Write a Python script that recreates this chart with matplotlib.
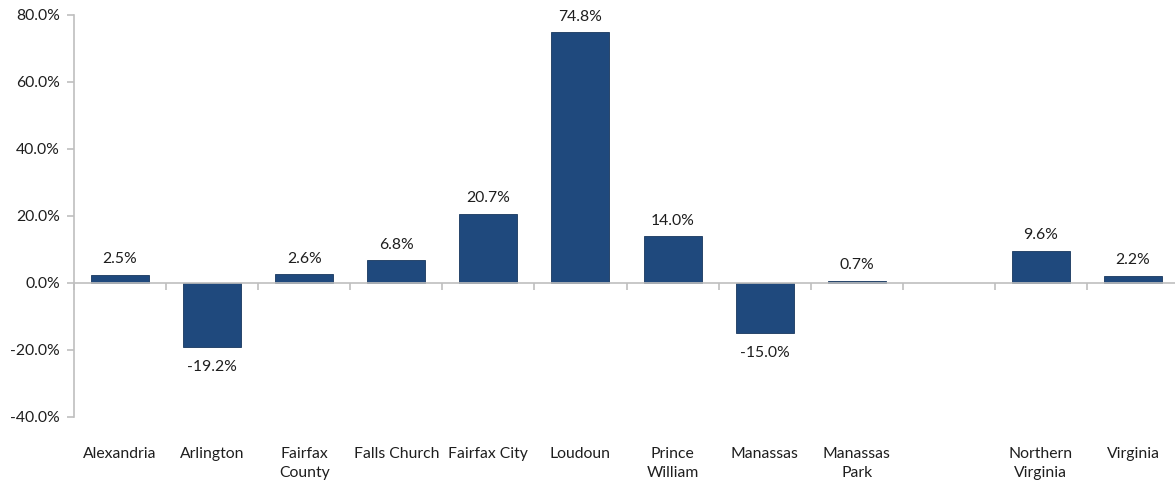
import matplotlib
matplotlib.use("Agg")
import matplotlib.pyplot as plt
import numpy as np

categories = ["Alexandria", "Arlington", "Fairfax\nCounty", "Falls Church", "Fairfax City",
              "Loudoun", "Prince\nWilliam", "Manassas", "Manassas\nPark", "",
              "Northern\nVirginia", "Virginia"]
values = [2.5, -19.2, 2.6, 6.8, 20.7, 74.8, 14.0, -15.0, 0.7, None, 9.6, 2.2]
yticks = [-40, -20, 0, 20, 40, 60, 80]

plt.rcParams['font.family'] = ['Lato', 'DejaVu Sans']
BAR = '#1F497D'
AX = '#BFBFBF'
TXT = '#1e1e1e'
FS = 11.3

fig = plt.figure(figsize=(11.75, 4.83), dpi=100)
ax = fig.add_axes([74/1175, 1-417/483, (1179-74)/1175, (417-14.7)/483])

n = len(categories)
x = np.arange(n)
for xi, v in zip(x, values):
    if v is None:
        continue
    ax.bar(xi, v, width=0.63, color=BAR, edgecolor='#17375E', linewidth=0.6, zorder=2)
    if v >= 0:
        ax.annotate(f"{v:.1f}%", (xi, v), xytext=(0, 6), textcoords='offset points',
                    ha='center', va='bottom', fontsize=FS, color=TXT)
    else:
        ax.annotate(f"{v:.1f}%", (xi, v), xytext=(0, -9), textcoords='offset points',
                    ha='center', va='top', fontsize=FS, color=TXT)

ax.set_xlim(-0.5, n - 0.5)
ax.set_ylim(-40, 80)
ax.set_yticks(yticks)
ax.set_yticklabels([f"{t:.1f}%" for t in yticks], fontsize=FS, color=TXT)

for s in ['top', 'right']:
    ax.spines[s].set_visible(False)
ax.spines['left'].set_color(AX)
ax.spines['left'].set_linewidth(1.2)
ax.spines['bottom'].set_position(('data', 0))
ax.spines['bottom'].set_color(AX)
ax.spines['bottom'].set_linewidth(1.2)
ax.spines['bottom'].set_zorder(3)

ax.set_xticks(np.arange(n + 1) - 0.5)
ax.set_xticklabels([])
ax.tick_params(axis='x', direction='out', length=5, color=AX, width=1.2)
ax.tick_params(axis='y', direction='out', length=5, color=AX, width=1.2, pad=5)

for xi, lab in zip(x, categories):
    ax.text(xi, -0.075, lab, transform=ax.get_xaxis_transform(), ha='center', va='top',
            fontsize=FS, color=TXT, linespacing=1.4)

fig.savefig("out.png", dpi=100, facecolor='white')
